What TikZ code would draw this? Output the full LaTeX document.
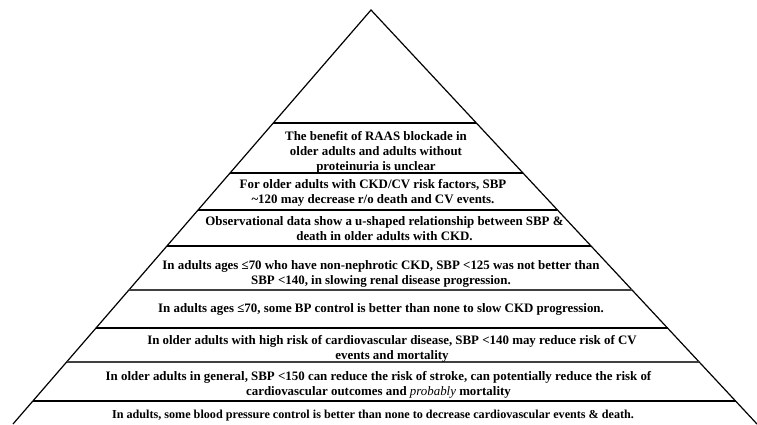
\documentclass[tikz,border=0pt]{standalone}
\usepackage{fontspec}
\setmainfont{Liberation Serif}
\usetikzlibrary{calc}
\begin{document}
\begin{tikzpicture}[x=1pt,y=-1pt,
  side/.style={line width=1.2pt, black},
  tier/.style={line width=1.7pt, black},
  tierg/.style={line width=1.7pt, black!75},
  lbl/.style={align=center, inner sep=0pt, font=\fontsize{12.9}{15}\selectfont\bfseries},
  lblsmall/.style={lbl, font=\fontsize{12.15}{15}\selectfont\bfseries}]
\useasboundingbox (0,0) rectangle (757,424);
\coordinate (A) at (371,10);
\coordinate (L) at (13,424);
\coordinate (R) at (757,424);
\draw[side] (L) -- (A) -- (R);
% tier dividers
\foreach \h/\st in {123/tier,173/tier,210/tier,246/tier,290/tierg,328/tier,362/tierg,401/tier}{
  \draw[\st] ($(A)!{(\h-10)/414}!(L)$) -- ($(A)!{(\h-10)/414}!(R)$);
}
\node[lbl] (t1) at (376,152) {\strut The benefit of RAAS blockade in\\\strut older adults and adults without\\\strut proteinuria is unclear};
\node[lbl] (t2) at (373,192.5) {\strut For older adults with CKD/CV risk factors, SBP\\\strut\textasciitilde120 may decrease r/o death and CV events.};
\node[lbl] (t3) at (384.5,229.5) {\strut Observational data show a u-shaped relationship between SBP \&\\\strut death in older adults with CKD.};
\node[lbl] (t4) at (381,273.5) {\strut In adults ages ≤70 who have non-nephrotic CKD, SBP <125 was not better than\\\strut SBP <140, in slowing renal disease progression.};
\node[lbl] (t5) at (381,309.3) {\strut In adults ages ≤70, some BP control is better than none to slow CKD progression.};
\node[lbl] (t6) at (392,348.5) {\strut In older adults with high risk of cardiovascular disease, SBP <140 may reduce risk of CV\\\strut events and mortality};
\node[lbl] (t7) at (378.5,384.5) {\strut In older adults in general, SBP <150 can reduce the risk of stroke, can potentially reduce the risk of\\\strut cardiovascular outcomes and \textmd{\textit{probably}} mortality};
\node[lblsmall] (t8) at (373,415) {\strut In adults, some blood pressure control is better than none to decrease cardiovascular events \& death.};
\end{tikzpicture}
\end{document}
